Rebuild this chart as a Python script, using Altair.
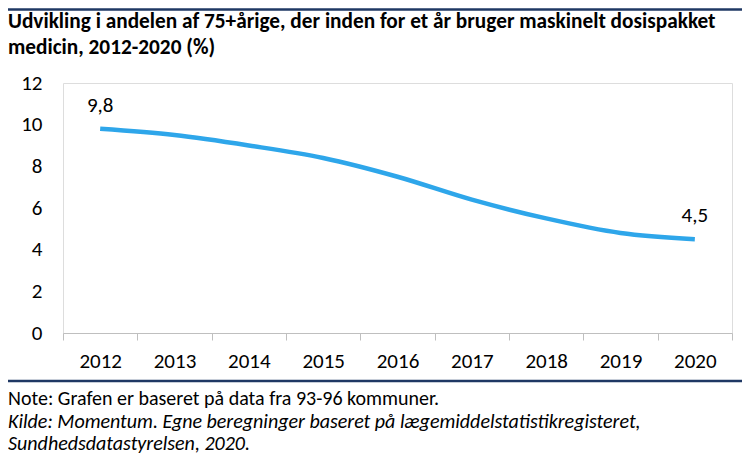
import altair as alt
import pandas as pd

years = [2012, 2013, 2014, 2015, 2016, 2017, 2018, 2019, 2020]
values = [9.8, 9.5, 9.0, 8.4, 7.5, 6.4, 5.5, 4.8, 4.5]
label_years = [2012, 2020]

title_lines = [
    "Udvikling i andelen af 75+årige, der inden for et år bruger maskinelt dosispakket",
    "medicin, 2012-2020 (%)",
]
note_lines = [
    "Note: Grafen er baseret på data fra 93-96 kommuner.",
    "Kilde: Momentum. Egne beregninger baseret på lægemiddelstatistikregisteret,",
    "Sundhedsdatastyrelsen, 2020.",
]

FONT = "Carlito, Lato, sans-serif"
W, H = 669, 250
PL, PT = 55, 75

df = pd.DataFrame({"year": [str(y) for y in years], "value": values})
df["label"] = [f"{v:.1f}".replace(".", ",") if y in label_years else "" for y, v in zip(years, values)]

x = alt.X(
    "year:O",
    bandPosition=0.5,
    scale=alt.Scale(type="band", paddingInner=0, paddingOuter=0),
    axis=alt.Axis(
        title=None, labelAngle=0, tickBand="extent", domainColor="#BFBFBF", tickColor="#BFBFBF",
        tickSize=7, labelPadding=10, labelFontSize=21, labelFont=FONT, labelColor="#000000",
    ),
)
y = alt.Y(
    "value:Q",
    scale=alt.Scale(domain=[0, 12]),
    axis=alt.Axis(
        title=None, values=[0, 2, 4, 6, 8, 10, 12], grid=False, domain=False, ticks=False,
        labelPadding=21, labelFontSize=21, labelFont=FONT, labelColor="#000000",
    ),
)

base = alt.Chart(df)
line = base.mark_line(color="#2EA6EA", strokeWidth=4.5, interpolate="monotone").encode(x=x, y=y)
labels = base.transform_filter("datum.label != ''").mark_text(
    dy=-23, fontSize=21, font=FONT, color="#000000"
).encode(x=x, y=y, text="label:N")

tdf = pd.DataFrame({"t": title_lines, "y": [-61, -35]})
title = alt.Chart(tdf).mark_text(
    align="left", baseline="middle", fontSize=21.3, fontWeight="bold", font=FONT, color="#000000"
).encode(x=alt.value(-PL), y=alt.Y("y:Q", scale=None), text="t:N")

ndf = pd.DataFrame({"t": note_lines, "y": [316, 339, 361], "s": ["normal", "italic", "italic"]})
notes_n = alt.Chart(ndf).transform_filter("datum.s == 'normal'").mark_text(
    align="left", baseline="middle", fontSize=20, font=FONT, color="#000000"
).encode(x=alt.value(-PL), y=alt.Y("y:Q", scale=None), text="t:N")
notes_i = alt.Chart(ndf).transform_filter("datum.s == 'italic'").mark_text(
    align="left", baseline="middle", fontSize=20, font=FONT, fontStyle="italic", color="#000000"
).encode(x=alt.value(-PL), y=alt.Y("y:Q", scale=None), text="t:N")

top_rule = alt.Chart(pd.DataFrame({"a": [0]})).mark_rule(color="#1F3864", strokeWidth=2.5).encode(
    x=alt.value(-PL), x2=alt.value(W + 10), y=alt.value(-PT + 1.5)
)
bot_rule = alt.Chart(pd.DataFrame({"a": [0]})).mark_rule(color="#1F3864", strokeWidth=2.5).encode(
    x=alt.value(-PL), x2=alt.value(W + 10), y=alt.value(298)
)

chart = alt.layer(top_rule, bot_rule, title, notes_n, notes_i, line, labels).properties(
    width=W, height=H,
    autosize=alt.AutoSizeParams(type="none"),
    padding={"left": PL, "top": PT, "right": 10, "bottom": 123},
).configure_view(stroke=None).configure(background="white")

chart.save("out.html", embed_options={"renderer": "svg", "actions": False})
